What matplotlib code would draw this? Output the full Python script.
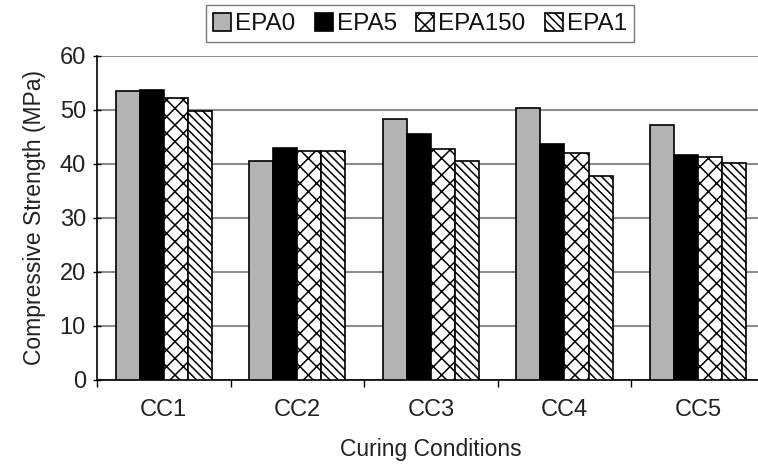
import numpy as np
import matplotlib.pyplot as plt

plt.rcParams['font.family'] = ['Liberation Sans', 'DejaVu Sans']
plt.rcParams['hatch.linewidth'] = 1.1

# data
categorias = ['CC1', 'CC2', 'CC3', 'CC4', 'CC5']
series = ['EPA0', 'EPA5', 'EPA150', 'EPA1']
epa0 = [53.5, 40.6, 48.3, 50.4, 47.2]
epa5 = [53.6, 42.9, 45.5, 43.6, 41.7]
epa150 = [52.2, 42.4, 42.8, 42.0, 41.2]
epa1 = [49.8, 42.3, 40.6, 37.8, 40.2]
valores = [epa0, epa5, epa150, epa1]

colores = ['#b3b3b3', 'black', 'white', 'white']
tramas = ['', '', 'xx', '\\\\\\\\']

fig = plt.figure(figsize=(7.58, 4.69), dpi=100)
ax = fig.add_axes([0.128, 0.19, 0.881, 0.691])

x = np.arange(len(categorias))
ancho = 0.18
for i, (nombre, vals) in enumerate(zip(series, valores)):
    ax.bar(x + (i - 1.5) * ancho, vals, ancho, color=colores[i], hatch=tramas[i],
           edgecolor='black', linewidth=1.2, label=nombre, zorder=3)

ax.set_xlim(-0.5, len(categorias) - 0.5)
ax.set_ylim(0, 60)
ax.set_yticks(range(0, 61, 10))
ax.yaxis.grid(True, color='#8c8c8c', linewidth=1.5, zorder=0)
ax.set_axisbelow(True)

ax.set_xticks(x)
ax.set_xticklabels(categorias)
ax.set_xticks(np.arange(-0.5, len(categorias), 1), minor=True)
ax.tick_params(axis='x', which='major', length=0, labelsize=17, pad=14, labelcolor='#222222')
ax.tick_params(axis='x', which='minor', length=5, width=1, direction='out')
ax.tick_params(axis='y', length=6, width=1, direction='inout', labelsize=17, pad=5,
               labelcolor='#222222')

for lado in ['top', 'right']:
    ax.spines[lado].set_visible(False)
ax.spines['left'].set_linewidth(1.2)
ax.spines['bottom'].set_linewidth(1.2)

ax.set_ylabel('Compressive Strength (MPa)', fontsize=16.5, color='#222222', labelpad=10)
ax.set_xlabel('Curing Conditions', fontsize=16.5, color='#222222', labelpad=12)

fig.legend(loc='center', bbox_to_anchor=(0.554, 0.949), ncol=4, fontsize=17.5,
           frameon=True, fancybox=False, edgecolor='#555555', handlelength=0.75,
           handleheight=0.75, handletextpad=0.15, columnspacing=0.8,
           borderpad=0.3, labelcolor='#111111')

fig.savefig('out.png', dpi=100)
